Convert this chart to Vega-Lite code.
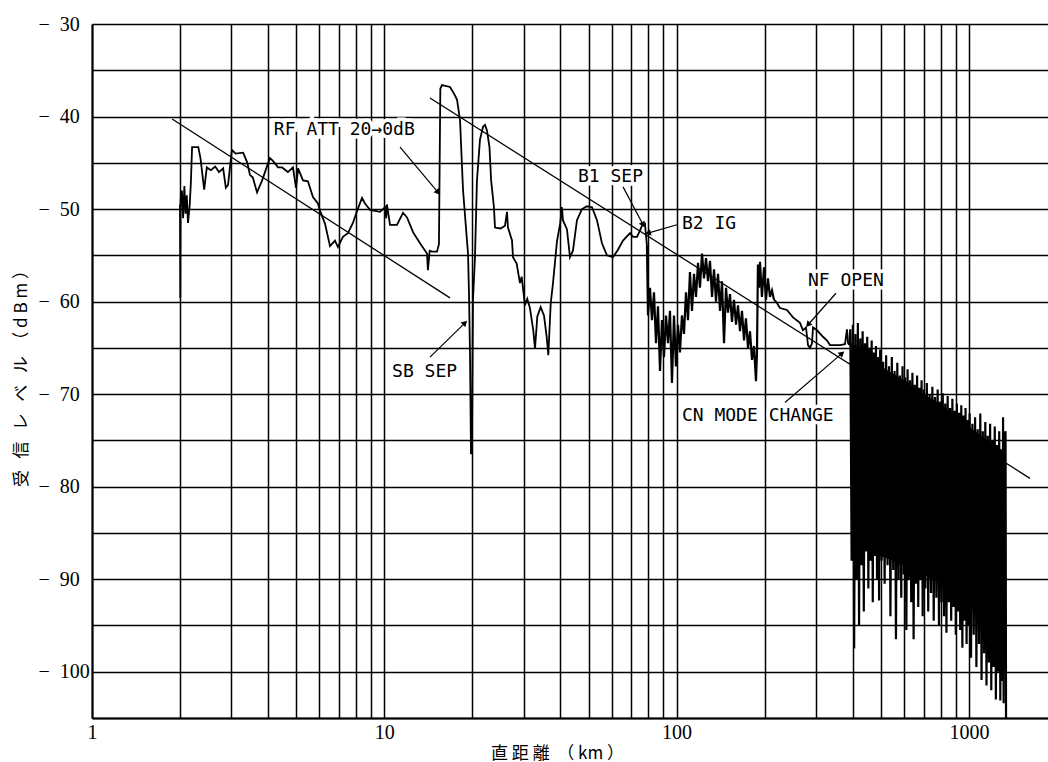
{
  "$schema": "https://vega.github.io/schema/vega-lite/v6.json",
  "autosize": {"type": "none"},
  "padding": {"left": 92, "top": 24, "right": 0, "bottom": 44},
  "width": 956,
  "height": 694,
  "background": "white",
  "config": {"view": {"stroke": null}},
  "datasets": {
    "trace": [
      {"km":2.00,"dbm":-49.5},{"km":2.005,"dbm":-59.6},{"km":2.01,"dbm":-49},{"km":2.03,"dbm":-48},{"km":2.05,"dbm":-51},{"km":2.07,"dbm":-47.5},{"km":2.09,"dbm":-50.5},{"km":2.11,"dbm":-48.5},{"km":2.13,"dbm":-51.5},{"km":2.16,"dbm":-49.5},{"km":2.18,"dbm":-47},{"km":2.20,"dbm":-43.3},{"km":2.31,"dbm":-43.3},{"km":2.35,"dbm":-44.5},{"km":2.42,"dbm":-47.9},{"km":2.47,"dbm":-45.5},{"km":2.55,"dbm":-45.8},{"km":2.64,"dbm":-45.4},{"km":2.72,"dbm":-46.0},{"km":2.81,"dbm":-45.6},{"km":2.87,"dbm":-47.7},{"km":2.92,"dbm":-47.4},{"km":3.01,"dbm":-43.6},{"km":3.10,"dbm":-44.0},{"km":3.29,"dbm":-43.9},{"km":3.40,"dbm":-45.0},{"km":3.47,"dbm":-46.3},{"km":3.55,"dbm":-46.6},{"km":3.67,"dbm":-48.2},{"km":3.82,"dbm":-46.9},{"km":4.06,"dbm":-44.5},{"km":4.16,"dbm":-44.8},{"km":4.33,"dbm":-45.5},{"km":4.47,"dbm":-45.5},{"km":4.68,"dbm":-46.0},{"km":4.87,"dbm":-45.5},{"km":4.99,"dbm":-47.7},{"km":5.07,"dbm":-45.6},{"km":5.27,"dbm":-46.9},{"km":5.48,"dbm":-47.0},{"km":5.70,"dbm":-48.7},{"km":5.93,"dbm":-49.4},{"km":6.03,"dbm":-50.2},{"km":6.27,"dbm":-51.6},{"km":6.52,"dbm":-54.0},{"km":6.78,"dbm":-53.4},{"km":6.94,"dbm":-54.1},{"km":7.22,"dbm":-53.0},{"km":7.51,"dbm":-52.6},{"km":7.81,"dbm":-51.5},{"km":8.07,"dbm":-50.2},{"km":8.39,"dbm":-48.8},{"km":8.59,"dbm":-49.4},{"km":8.94,"dbm":-50.1},{"km":9.67,"dbm":-50.3},{"km":10.06,"dbm":-49.8},{"km":10.15,"dbm":-51.0},{"km":10.21,"dbm":-49.5},{"km":10.46,"dbm":-51.7},{"km":11.05,"dbm":-51.7},{"km":11.59,"dbm":-50.4},{"km":11.96,"dbm":-50.9},{"km":12.54,"dbm":-52.5},{"km":13.25,"dbm":-53.7},{"km":14.0,"dbm":-54.8},{"km":14.1,"dbm":-56.6},{"km":14.3,"dbm":-54.5},{"km":14.56,"dbm":-54.6},{"km":15.15,"dbm":-54.6},{"km":15.38,"dbm":-53.8},{"km":15.55,"dbm":-37.0},{"km":15.75,"dbm":-36.6},{"km":16.78,"dbm":-36.8},{"km":17.3,"dbm":-37.5},{"km":17.74,"dbm":-38.2},{"km":18.16,"dbm":-40.4},{"km":18.59,"dbm":-47.9},{"km":19.18,"dbm":-53.4},{"km":19.34,"dbm":-54.8},{"km":19.5,"dbm":-59.5},{"km":19.65,"dbm":-66},{"km":19.80,"dbm":-76.5},{"km":19.95,"dbm":-75.5},{"km":20.11,"dbm":-59.8},{"km":20.43,"dbm":-55.2},{"km":20.75,"dbm":-46.9},{"km":21.25,"dbm":-42.5},{"km":21.77,"dbm":-41.1},{"km":22.11,"dbm":-40.9},{"km":22.45,"dbm":-41.5},{"km":22.9,"dbm":-43.3},{"km":23.2,"dbm":-46.9},{"km":23.72,"dbm":-49.8},{"km":23.92,"dbm":-52.0},{"km":25.0,"dbm":-52.1},{"km":25.88,"dbm":-51.8},{"km":26.29,"dbm":-50.3},{"km":26.49,"dbm":-52.0},{"km":27.35,"dbm":-53.4},{"km":27.56,"dbm":-55.2},{"km":28.37,"dbm":-55.9},{"km":29.12,"dbm":-58.0},{"km":29.51,"dbm":-57.3},{"km":30.29,"dbm":-60.4},{"km":30.84,"dbm":-59.7},{"km":31.50,"dbm":-60.7},{"km":32.34,"dbm":-63.1},{"km":32.78,"dbm":-65.1},{"km":33.38,"dbm":-61.6},{"km":34.28,"dbm":-60.6},{"km":35.18,"dbm":-61.5},{"km":35.94,"dbm":-63.8},{"km":36.40,"dbm":-65.8},{"km":37.10,"dbm":-60.2},{"km":37.77,"dbm":-58.0},{"km":38.97,"dbm":-53.5},{"km":40.0,"dbm":-51.5},{"km":40.53,"dbm":-49.8},{"km":40.85,"dbm":-51.2},{"km":42.17,"dbm":-52.2},{"km":43.18,"dbm":-55.2},{"km":44.20,"dbm":-54.5},{"km":45.62,"dbm":-51.2},{"km":47.45,"dbm":-50.0},{"km":49.36,"dbm":-49.7},{"km":51.35,"dbm":-49.8},{"km":53.41,"dbm":-51.2},{"km":55.55,"dbm":-53.7},{"km":57.79,"dbm":-55.0},{"km":60.58,"dbm":-55.2},{"km":63.03,"dbm":-54.4},{"km":65.56,"dbm":-53.4},{"km":69.28,"dbm":-52.6},{"km":71.0,"dbm":-53.0},{"km":73.19,"dbm":-53.0},{"km":75.0,"dbm":-52.3},{"km":76.16,"dbm":-51.8},{"km":77.95,"dbm":-51.6},{"km":79.19,"dbm":-54.0}
    ],
    "tail": [
      {"km":215.4,"dbm":-59.8},{"km":218.8,"dbm":-60.0},{"km":225.8,"dbm":-60.7},{"km":238.6,"dbm":-60.9},{"km":250.2,"dbm":-61.7},{"km":264.3,"dbm":-62.3},{"km":270.6,"dbm":-63.1},{"km":277.2,"dbm":-62.8},{"km":281.6,"dbm":-64.7},{"km":286.1,"dbm":-65.0},{"km":290.6,"dbm":-64.5},{"km":292.9,"dbm":-62.8},{"km":302.3,"dbm":-63.1},{"km":316.9,"dbm":-63.8},{"km":327.1,"dbm":-64.2},{"km":334.9,"dbm":-64.7},{"km":362.2,"dbm":-64.7},{"km":376.8,"dbm":-64.6},{"km":382.8,"dbm":-63.0},{"km":386,"dbm":-64.5},{"km":390,"dbm":-64.7}
    ],
    "noise": [
      {"km":79.19,"dbm":-54.0},{"km":79.83,"dbm":-61.5},{"km":81.1,"dbm":-58.5},{"km":82.38,"dbm":-62},{"km":83.70,"dbm":-59},{"km":85.02,"dbm":-64.5},{"km":86.38,"dbm":-60.5},{"km":87.75,"dbm":-67.5},{"km":89.13,"dbm":-62},{"km":90.56,"dbm":-66},{"km":91.99,"dbm":-61.5},{"km":93.46,"dbm":-64.5},{"km":94.93,"dbm":-61},{"km":96.43,"dbm":-68.8},{"km":97.97,"dbm":-61.5},{"km":99.52,"dbm":-67},{"km":101.1,"dbm":-62.5},{"km":102.7,"dbm":-65.5},{"km":104.3,"dbm":-61.5},{"km":106.0,"dbm":-63.5},{"km":107.7,"dbm":-59},{"km":109.4,"dbm":-62},{"km":111.1,"dbm":-56.8},{"km":112.9,"dbm":-61},{"km":114.7,"dbm":-57},{"km":116.5,"dbm":-59.5},{"km":118.4,"dbm":-55.8},{"km":120.2,"dbm":-58.5},{"km":122.2,"dbm":-54.8},{"km":124.1,"dbm":-57.5},{"km":126.1,"dbm":-55.3},{"km":128.1,"dbm":-57.8},{"km":130.1,"dbm":-55.6},{"km":132.2,"dbm":-59.5},{"km":134.3,"dbm":-56.5},{"km":136.4,"dbm":-60},{"km":138.6,"dbm":-57},{"km":140.8,"dbm":-61},{"km":143.0,"dbm":-57.8},{"km":145.3,"dbm":-64.5},{"km":147.6,"dbm":-58.5},{"km":149.9,"dbm":-61.2},{"km":152.3,"dbm":-59.2},{"km":154.7,"dbm":-62.2},{"km":157.2,"dbm":-59.8},{"km":159.7,"dbm":-62.5},{"km":162.2,"dbm":-60.4},{"km":164.8,"dbm":-63.2},{"km":167.4,"dbm":-61},{"km":170.1,"dbm":-64.2},{"km":172.7,"dbm":-61.8},{"km":175.5,"dbm":-65},{"km":178.3,"dbm":-63.2},{"km":181.1,"dbm":-66.3},{"km":184.0,"dbm":-64.8},{"km":186.9,"dbm":-68.6},{"km":188.4,"dbm":-65.5},{"km":189.8,"dbm":-56},{"km":191.4,"dbm":-58.5},{"km":192.9,"dbm":-55.7},{"km":195.9,"dbm":-59.5},{"km":199.1,"dbm":-56.3},{"km":202.2,"dbm":-59.8},{"km":205.4,"dbm":-57.5},{"km":208.7,"dbm":-59.5},{"km":212.0,"dbm":-58.8},{"km":215.4,"dbm":-59.8}
    ],
    "dense": [
      {"km":390,"dbm":-64.7},{"km":393,"dbm":-63.0},{"km":397,"dbm":-88},{"km":401,"dbm":-62.5},{"km":405,"dbm":-97.5},{"km":409,"dbm":-63.5},{"km":413,"dbm":-90},{"km":417,"dbm":-62.3},{"km":421,"dbm":-95},{"km":425,"dbm":-64},{"km":429,"dbm":-88.5},{"km":433,"dbm":-63.2},{"km":437,"dbm":-93.5},{"km":441,"dbm":-64.5},{"km":445,"dbm":-87},{"km":449,"dbm":-63.8},{"km":453,"dbm":-91},{"km":457,"dbm":-65},{"km":461,"dbm":-88},{"km":465,"dbm":-64.2},{"km":469,"dbm":-92.5},{"km":473,"dbm":-65.5},{"km":477,"dbm":-87.5},{"km":481,"dbm":-64.8},{"km":485,"dbm":-90},{"km":489,"dbm":-66},{"km":493,"dbm":-92.3},{"km":497,"dbm":-65.2},{"km":503,"dbm":-88},{"km":509,"dbm":-66.5},{"km":515,"dbm":-90.5},{"km":521,"dbm":-65.8},{"km":527,"dbm":-88.5},{"km":533,"dbm":-67},{"km":539,"dbm":-94},{"km":545,"dbm":-66},{"km":551,"dbm":-89},{"km":557,"dbm":-67.5},{"km":563,"dbm":-96.5},{"km":569,"dbm":-66.6},{"km":575,"dbm":-90},{"km":581,"dbm":-68},{"km":587,"dbm":-92},{"km":593,"dbm":-67},{"km":599,"dbm":-89.5},{"km":605,"dbm":-68.2},{"km":611,"dbm":-95.5},{"km":617,"dbm":-67.3},{"km":623,"dbm":-90},{"km":629,"dbm":-68.5},{"km":635,"dbm":-92.5},{"km":641,"dbm":-67.7},{"km":647,"dbm":-96.5},{"km":653,"dbm":-69},{"km":659,"dbm":-90.5},{"km":665,"dbm":-68},{"km":671,"dbm":-93},{"km":677,"dbm":-69.3},{"km":683,"dbm":-90},{"km":689,"dbm":-68.5},{"km":695,"dbm":-94},{"km":702,"dbm":-69.5},{"km":710,"dbm":-91},{"km":718,"dbm":-68.8},{"km":726,"dbm":-93.5},{"km":734,"dbm":-70},{"km":742,"dbm":-91.5},{"km":750,"dbm":-69.2},{"km":758,"dbm":-94.5},{"km":766,"dbm":-70.3},{"km":774,"dbm":-92},{"km":782,"dbm":-69.5},{"km":790,"dbm":-95},{"km":798,"dbm":-70.8},{"km":806,"dbm":-92.5},{"km":814,"dbm":-69.9},{"km":822,"dbm":-94},{"km":830,"dbm":-71},{"km":838,"dbm":-95.8},{"km":846,"dbm":-70.2},{"km":854,"dbm":-92.5},{"km":862,"dbm":-71.5},{"km":870,"dbm":-94.5},{"km":878,"dbm":-70.5},{"km":886,"dbm":-93},{"km":894,"dbm":-71.8},{"km":902,"dbm":-96},{"km":910,"dbm":-71},{"km":918,"dbm":-93.5},{"km":926,"dbm":-72},{"km":934,"dbm":-95.5},{"km":942,"dbm":-71.2},{"km":950,"dbm":-97.4},{"km":958,"dbm":-72.3},{"km":966,"dbm":-94.5},{"km":974,"dbm":-71.5},{"km":982,"dbm":-97},{"km":990,"dbm":-72.8},{"km":998,"dbm":-95},{"km":1006,"dbm":-72.1},{"km":1017,"dbm":-98.5},{"km":1028,"dbm":-73.2},{"km":1039,"dbm":-96},{"km":1050,"dbm":-72.5},{"km":1061,"dbm":-99.5},{"km":1072,"dbm":-73.8},{"km":1083,"dbm":-97},{"km":1094,"dbm":-72.1},{"km":1105,"dbm":-100.9},{"km":1116,"dbm":-74},{"km":1127,"dbm":-98},{"km":1138,"dbm":-73},{"km":1149,"dbm":-101.5},{"km":1160,"dbm":-74.5},{"km":1171,"dbm":-99},{"km":1182,"dbm":-73.2},{"km":1193,"dbm":-102},{"km":1204,"dbm":-75},{"km":1215,"dbm":-99.5},{"km":1226,"dbm":-73.5},{"km":1237,"dbm":-103},{"km":1248,"dbm":-75.5},{"km":1259,"dbm":-100},{"km":1270,"dbm":-74},{"km":1281,"dbm":-103.1},{"km":1292,"dbm":-76},{"km":1303,"dbm":-101},{"km":1309,"dbm":-72.5},{"km":1315,"dbm":-103.4},{"km":1320,"dbm":-75},{"km":1335,"dbm":-74},{"km":1340,"dbm":-105}
    ],
    "core": [
      {"km":396,"top":-64.5,"bottom":-82},
      {"km":450,"top":-65.5,"bottom":-86},
      {"km":500,"top":-67,"bottom":-87.5},
      {"km":600,"top":-68.5,"bottom":-88.5},
      {"km":700,"top":-70,"bottom":-89.5},
      {"km":800,"top":-71,"bottom":-90.5},
      {"km":900,"top":-72.5,"bottom":-91.5},
      {"km":1000,"top":-73.5,"bottom":-93},
      {"km":1100,"top":-74.5,"bottom":-94.5},
      {"km":1200,"top":-75.5,"bottom":-96},
      {"km":1300,"top":-76,"bottom":-97},
      {"km":1318,"top":-76,"bottom":-97}
    ],
    "refs": [
      {"id":"a","km":1.88,"dbm":-40.27},{"id":"a","km":16.78,"dbm":-59.6},
      {"id":"b","km":14.33,"dbm":-38.0},{"id":"b","km":1618,"dbm":-79.1}
    ],
    "arrows": [
      {"km":11.32,"dbm":-43.3,"km2":15.27,"dbm2":-48.2,"angle":139.8},
      {"km":14.33,"dbm":-66.0,"km2":18.89,"dbm2":-62.3,"angle":45.8},
      {"km":65.6,"dbm":-47.6,"km2":76.8,"dbm2":-51.7,"angle":152.2},
      {"km":100.3,"dbm":-51.7,"km2":79.8,"dbm2":-52.6,"angle":255.1},
      {"km":351,"dbm":-59.1,"km2":281.6,"dbm2":-62.5,"angle":221.2},
      {"km":234.9,"dbm":-70.9,"km2":368,"dbm2":-65.6,"angle":49.3}
    ],
    "notes": [
      {"km":4.19,"dbm":-41.5,"label":"RF ATT 20→0dB"},
      {"km":10.63,"dbm":-67.6,"label":"SB SEP"},
      {"km":46.0,"dbm":-46.5,"label":"B1 SEP"},
      {"km":104.3,"dbm":-51.6,"label":"B2 IG"},
      {"km":281.6,"dbm":-57.8,"label":"NF OPEN"},
      {"km":104.3,"dbm":-72.4,"label":"CN MODE CHANGE"}
    ]
  },
  "encoding": {
    "x": {
      "field": "km", "type": "quantitative",
      "scale": {"type": "log", "domain": [1, 1865], "nice": false},
      "axis": {
        "values": [1,2,3,4,5,6,7,8,9,10,20,30,40,50,60,70,80,90,100,200,300,400,500,600,700,800,900,1000],
        "labelExpr": "(datum.value == 1 || datum.value == 10 || datum.value == 100 || datum.value == 1000) ? '' + datum.value : ''",
        "grid": true, "gridColor": "black", "gridWidth": 1.5, "gridOpacity": 1,
        "domain": true, "domainColor": "black", "domainWidth": 2,
        "ticks": false, "labelFlush": false, "labelOverlap": false, "labelBound": false,
        "labelFont": "Liberation Serif", "labelFontSize": 20, "labelColor": "black", "labelPadding": 4,
        "title": "直 距 離 \u00a0（ km ）", "titleFont": "Noto Sans CJK JP", "titleFontSize": 17, "titleFontWeight": "normal", "titleColor": "black",
        "titleX": 465, "titleY": 35, "titleBaseline": "middle", "titleAlign": "center"
      }
    },
    "y": {
      "field": "dbm", "type": "quantitative",
      "scale": {"domain": [-105, -30], "nice": false, "zero": false},
      "axis": {
        "values": [-105,-100,-95,-90,-85,-80,-75,-70,-65,-60,-55,-50,-45,-40,-35,-30],
        "labelExpr": "datum.value % 10 == 0 ? '−\u00a0\u00a0' + abs(datum.value) : ''",
        "grid": true, "gridColor": "black", "gridWidth": 1.5, "gridOpacity": 1,
        "domain": true, "domainColor": "black", "domainWidth": 2,
        "ticks": false, "labelOverlap": false, "labelBound": false, "labelFlush": false,
        "labelFont": "Liberation Serif", "labelFontSize": 20, "labelColor": "black",
        "labelAlign": "left", "labelPadding": 54,
        "title": "受\u00a0\u00a0\u00a0信\u00a0\u00a0\u00a0レ\u00a0\u00a0\u00a0ベ\u00a0\u00a0\u00a0ル\u00a0\u00a0（\u00a0d\u00a0B\u00a0m\u00a0）", "titleFont": "Noto Sans CJK JP", "titleFontSize": 17, "titleFontWeight": "normal", "titleColor": "black",
        "titleX": -71, "titleY": 350, "titleAngle": -90, "titleBaseline": "middle", "titleAlign": "center"
      }
    }
  },
  "layer": [
    {
      "data": {"name": "core"},
      "mark": {"type": "area", "color": "black", "opacity": 1, "clip": true},
      "encoding": {
        "y": {"field": "top", "type": "quantitative"},
        "y2": {"field": "bottom"}
      }
    },
    {
      "data": {"name": "trace"},
      "mark": {"type": "line", "color": "black", "strokeWidth": 1.8, "clip": true}
    },
    {
      "data": {"name": "tail"},
      "mark": {"type": "line", "color": "black", "strokeWidth": 1.8, "clip": true}
    },
    {
      "data": {"name": "noise"},
      "mark": {"type": "line", "color": "black", "strokeWidth": 2.2, "clip": true}
    },
    {
      "data": {"name": "dense"},
      "mark": {"type": "line", "color": "black", "strokeWidth": 2.2, "clip": true}
    },
    {
      "data": {"name": "refs"},
      "mark": {"type": "line", "color": "black", "strokeWidth": 1.3},
      "encoding": {"detail": {"field": "id"}}
    },
    {
      "data": {"name": "arrows"},
      "mark": {"type": "rule", "color": "black", "strokeWidth": 1.2},
      "encoding": {"x2": {"field": "km2"}, "y2": {"field": "dbm2"}}
    },
    {
      "data": {"name": "arrows"},
      "mark": {"type": "point", "shape": "triangle-up", "filled": true, "color": "black", "size": 45, "opacity": 1},
      "encoding": {
        "x": {"field": "km2", "type": "quantitative"},
        "y": {"field": "dbm2", "type": "quantitative"},
        "angle": {"field": "angle", "type": "quantitative", "scale": null}
      }
    },
    {
      "data": {"name": "notes"},
      "mark": {"type": "text", "align": "left", "baseline": "middle", "font": "DejaVu Sans Mono", "fontSize": 18, "color": "white", "stroke": "white", "strokeWidth": 7},
      "encoding": {"text": {"field": "label"}}
    },
    {
      "data": {"name": "notes"},
      "mark": {"type": "text", "align": "left", "baseline": "middle", "font": "DejaVu Sans Mono", "fontSize": 18, "color": "black"},
      "encoding": {"text": {"field": "label"}}
    }
  ]
}
